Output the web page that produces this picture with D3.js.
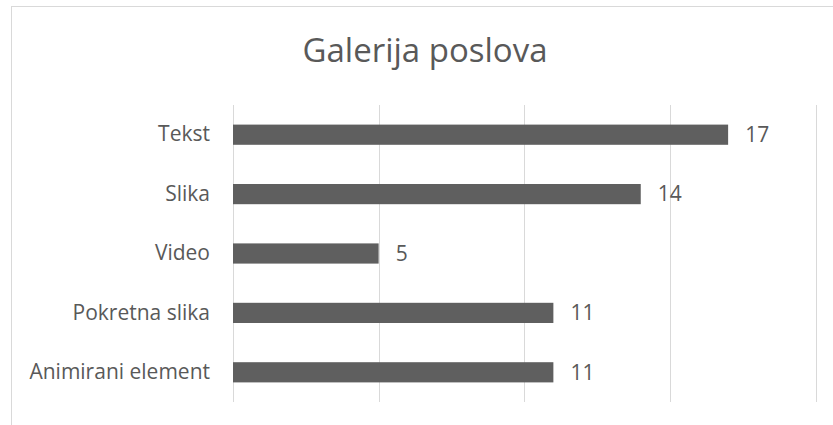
<!DOCTYPE html>
<html>
<head>
<meta charset="utf-8">
<script src="https://cdn.jsdelivr.net/npm/d3@7"></script>
<style>
  body { margin: 0; background: #fff; }
  svg { display: block; }
  text { font-family: "Open Sans", sans-serif; fill: #595959; }
</style>
</head>
<body>
<svg id="svg1" width="833" height="425"></svg>
<script>
var width = 833;
var height = 425;

// chart values
var categories = ['Tekst', 'Slika', 'Video', 'Pokretna slika', 'Animirani element'];
var values = [17, 14, 5, 11, 11];
var gridTicks = [0, 5, 10, 15, 20];

var svg = d3.select('#svg1');

// chart area border (cropped on right and bottom)
svg.append('rect')
    .attr('x', 11.5)
    .attr('y', 6.5)
    .attr('width', 900)
    .attr('height', 500)
    .attr('fill', 'white')
    .attr('stroke', '#d9d9d9')
    .attr('stroke-width', 1);

var x = d3.scaleLinear()
    .domain([0, 20])
    .range([233, 815.5]);

var y = d3.scaleBand()
    .domain(categories)
    .range([105, 402])
    .paddingInner(0.66)
    .paddingOuter(0.33);

// gridlines
svg.selectAll('.grid')
    .data(gridTicks)
    .enter()
    .append('line')
    .attr('class', 'grid')
    .attr('x1', function(d){ return Math.round(x(d)) + 0.5; })
    .attr('x2', function(d){ return Math.round(x(d)) + 0.5; })
    .attr('y1', 105)
    .attr('y2', 402)
    .attr('stroke', '#d9d9d9')
    .attr('stroke-width', 1);

// bars
svg.selectAll('.bar')
    .data(values)
    .enter()
    .append('rect')
    .attr('class', 'bar')
    .attr('x', x(0))
    .attr('y', function(d, i){ return y(categories[i]); })
    .attr('width', function(d){ return x(d) - x(0); })
    .attr('height', y.bandwidth())
    .attr('fill', '#5f5f5f');

// value labels
svg.selectAll('.val')
    .data(values)
    .enter()
    .append('text')
    .attr('class', 'val')
    .attr('x', function(d){ return x(d) + 17; })
    .attr('y', function(d, i){ return y(categories[i]) + y.bandwidth() / 2; })
    .attr('dy', '0.35em')
    .attr('font-size', 21)
    .text(function(d){ return d; });

// category labels
var yAxis = d3.axisLeft(y).tickSize(0).tickPadding(23);
var gy = svg.append('g')
    .attr('transform', 'translate(' + x(0) + ',0)')
    .call(yAxis);
gy.select('.domain').remove();
gy.selectAll('text')
    .attr('font-size', 21)
    .attr('font-family', '"Open Sans", sans-serif')
    .attr('fill', '#595959');

// title
svg.append('text')
    .attr('x', 425)
    .attr('y', 62)
    .attr('text-anchor', 'middle')
    .attr('font-size', 33)
    .text('Galerija poslova');
</script>
</body>
</html>
